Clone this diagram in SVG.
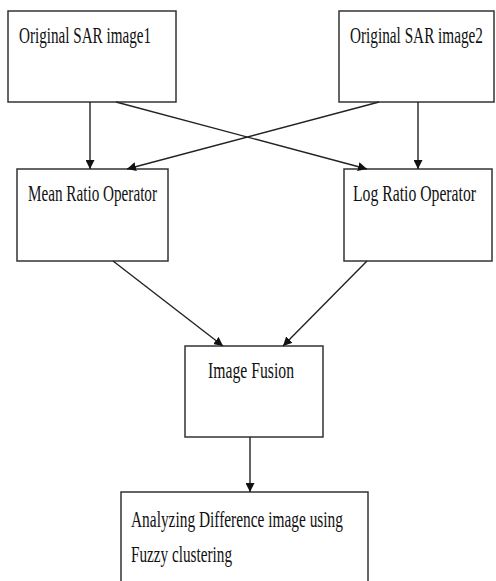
<svg xmlns="http://www.w3.org/2000/svg" width="496" height="581" viewBox="0 0 496 581">
<style>
.box{fill:#fff;stroke:#333;stroke-width:1.5}
.lbl{font-family:"Liberation Serif","Times New Roman",serif;font-size:15.2px;fill:#111}
.con{stroke:#222;stroke-width:1.4;fill:none;marker-end:url(#arr)}
</style>
<defs>
<marker id="arr" viewBox="0 0 10 10" refX="10" refY="5" markerWidth="9" markerHeight="9" markerUnits="userSpaceOnUse" orient="auto">
<path d="M0,0 L10,5 L0,10 z" fill="#111"/>
</marker>
</defs>
<rect width="496" height="581" fill="#fff"/>
<g id="n1"><rect class="box" x="8" y="11" width="168" height="91"/><text class="lbl" transform="translate(19,43) scale(1,1.58)" textLength="132" lengthAdjust="spacingAndGlyphs">Original SAR image1</text></g>
<g id="n2"><rect class="box" x="339" y="11" width="155" height="91"/><text class="lbl" transform="translate(350,43) scale(1,1.58)" textLength="133" lengthAdjust="spacingAndGlyphs">Original SAR image2</text></g>
<g id="n3"><rect class="box" x="17" y="169" width="151" height="92"/><text class="lbl" transform="translate(28,201) scale(1,1.58)" textLength="129" lengthAdjust="spacingAndGlyphs">Mean Ratio Operator</text></g>
<g id="n4"><rect class="box" x="344" y="169" width="148" height="92"/><text class="lbl" transform="translate(353,201) scale(1,1.58)" textLength="123" lengthAdjust="spacingAndGlyphs">Log Ratio Operator</text></g>
<g id="n5"><rect class="box" x="185" y="346" width="138" height="91"/><text class="lbl" transform="translate(208,378) scale(1,1.58)" textLength="86" lengthAdjust="spacingAndGlyphs">Image Fusion</text></g>
<g id="n6"><rect class="box" x="121" y="492" width="247" height="100"/><text class="lbl" transform="translate(131,527) scale(1,1.58)" textLength="212" lengthAdjust="spacingAndGlyphs">Analyzing Difference image using</text><text class="lbl" transform="translate(131,562) scale(1,1.58)" textLength="101" lengthAdjust="spacingAndGlyphs">Fuzzy clustering</text></g>
<g id="connectors">
<line class="con" x1="90" y1="102" x2="90" y2="169"/>
<line class="con" x1="418" y1="102" x2="418" y2="169"/>
<line class="con" x1="116" y1="102" x2="367" y2="169"/>
<line class="con" x1="379" y1="102" x2="127" y2="169"/>
<line class="con" x1="113" y1="261" x2="223" y2="346"/>
<line class="con" x1="367" y1="261" x2="283" y2="346"/>
<line class="con" x1="250" y1="437" x2="250" y2="492"/>
</g>
</svg>
